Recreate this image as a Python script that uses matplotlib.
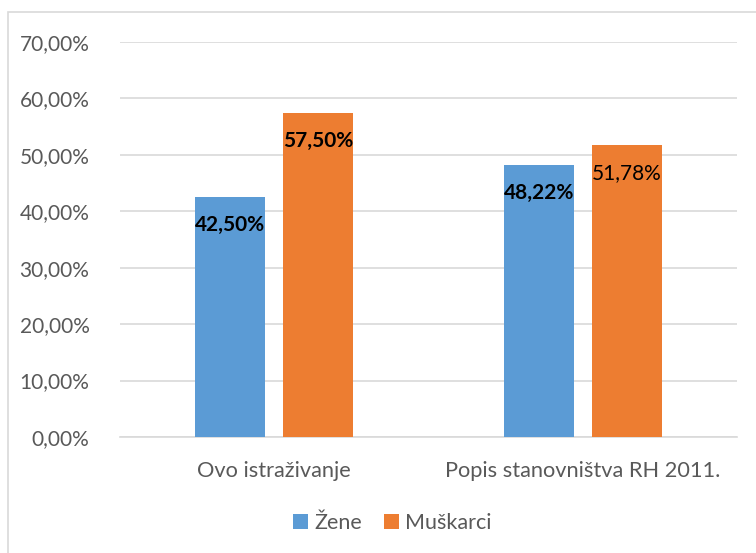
import numpy as np
import matplotlib.pyplot as plt
from matplotlib.patches import Rectangle

plt.rcParams['font.family'] = ['Lato', 'DejaVu Sans']

categories = ['Ovo istraživanje', 'Popis stanovništva RH 2011.']
zene = [42.50, 48.22]
muskarci = [57.50, 51.78]
zene_bold = [True, True]
muskarci_bold = [True, False]
yticks = [0, 10, 20, 30, 40, 50, 60, 70]

fig = plt.figure(figsize=(7.56, 5.53), dpi=100)
ax = fig.add_axes([0.1587, 0.2098, 0.975 - 0.1587, 0.924 - 0.2098])

# rub grafikona
fig.patches.append(Rectangle((0.0106, -0.01), 1.0, 0.988, transform=fig.transFigure,
                             fill=False, edgecolor='#d9d9d9', linewidth=1.2))

x = np.arange(len(categories))
w = 0.227
off = 0.143
b1 = ax.bar(x - off, zene, w, color='#5B9BD5', label='Žene', zorder=3)
b2 = ax.bar(x + off, muskarci, w, color='#ED7D31', label='Muškarci', zorder=3)


def fmt(v):
    return f"{v:.2f}".replace('.', ',') + '%'


for bars, vals, bold in [(b1, zene, zene_bold), (b2, muskarci, muskarci_bold)]:
    for rect, v, bd in zip(bars, vals, bold):
        ax.text(rect.get_x() + rect.get_width() / 2, v - 5.0, fmt(v),
                ha='center', va='center', fontsize=15,
                fontweight='bold' if bd else 'normal', color='black', zorder=4)

ax.set_xlim(-0.5, 1.5)
ax.set_ylim(0, 70)
ax.set_yticks(yticks)
ax.set_yticklabels([fmt(t) for t in yticks], fontsize=15, color='#595959')
ax.set_xticks(x)
ax.set_xticklabels(categories, fontsize=15.7, color='#595959')
ax.tick_params(axis='both', length=0)
ax.tick_params(axis='y', pad=22)
ax.tick_params(axis='x', pad=17)
ax.grid(axis='y', color='#d9d9d9', linewidth=1.2, zorder=0)
for s in ['top', 'right', 'left']:
    ax.spines[s].set_visible(False)
ax.spines['bottom'].set_color('#d9d9d9')
ax.spines['bottom'].set_linewidth(1.2)

fig.legend(loc='center', bbox_to_anchor=(0.519, 0.054), ncol=2, frameon=False,
           fontsize=15.5, handlelength=0.7, handleheight=0.7, handletextpad=0.3,
           columnspacing=1.0, labelcolor='#595959')

fig.savefig('out.png', dpi=100)
